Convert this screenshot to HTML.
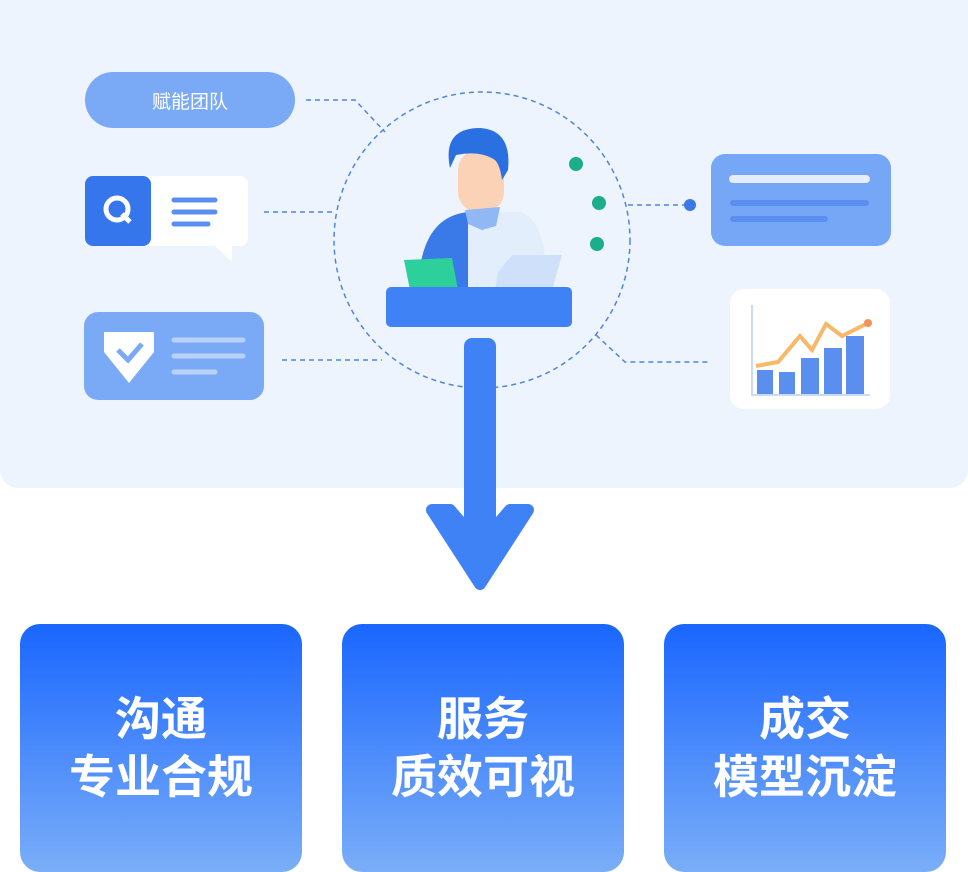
<!DOCTYPE html>
<html><head><meta charset="utf-8"><style>
body{margin:0;width:968px;height:872px;background:#fff;position:relative;overflow:hidden;font-family:"Liberation Sans","Noto Sans CJK SC",sans-serif}
.panel{position:absolute;left:0;top:0;width:968px;height:488px;background:#edf4fe;border-radius:0 0 18px 18px}
.box{position:absolute;top:624px;width:282px;height:248px;border-radius:20px;background:linear-gradient(#1a66ff,#7aaef8);color:#fff;font-size:46px;font-weight:bold;text-align:center;line-height:58px;box-sizing:border-box;padding-top:66px}
.abs{position:absolute}
</style></head><body>
<div class="panel"></div>
<svg class="abs" style="left:0;top:0" width="968" height="600">
<g fill="none" stroke="#4d86e0" stroke-width="1.5" stroke-dasharray="5,4">
<circle cx="482" cy="240" r="148"/>
<path d="M306 100 H355 L385 132"/>
<path d="M264 212 H334"/>
<path d="M282 360 H382"/>
<path d="M628 205 H688"/>
<path d="M596 335 L625 362 H708"/>
</g>
<circle cx="690" cy="205" r="6" fill="#3b77e8"/>
<circle cx="576" cy="164" r="7" fill="#1aae8c"/>
<circle cx="599" cy="203" r="7" fill="#1aae8c"/>
<circle cx="597" cy="244" r="7" fill="#1aae8c"/>
<path d="M418 290 Q420 215 470 212 L490 212 L490 290Z" fill="#3a7ae8"/>
<path d="M468 212 L520 212 Q548 220 546 290 L468 290Z" fill="#e3eefd"/>
<rect x="458" y="150" width="46" height="62" rx="20" fill="#fcd2b6"/>
<path d="M450 168 Q442 128 480 128 Q512 130 508 170 L502 180 Q500 165 495 160 Q480 150 456 155 Z" fill="#2a70e0"/>
<path d="M465 210 L500 207 L496 226 L482 230 L468 224Z" fill="#8fb8f5"/>
<path d="M404 260 L452 258 L458 290 L410 290Z" fill="#2dd09a"/>
<path d="M498 272 L512 255 L562 255 L552 290 L495 290Z" fill="#cfe0fb"/>
<rect x="386" y="287" width="186" height="40" rx="5" fill="#3f82f5"/>
<rect x="464" y="338" width="32" height="200" rx="8" fill="#3f82f5"/>
<path d="M432 510 L450 510 L480 545 L510 510 L528 510 L480 584Z" fill="#3f82f5" stroke="#3f82f5" stroke-width="12" stroke-linejoin="round"/>
<rect x="85" y="72" width="210" height="56" rx="28" fill="#7aaaf5"/>
<text x="190" y="108" font-size="19" fill="#fff" text-anchor="middle" font-family="Liberation Sans,Noto Sans CJK SC,sans-serif">赋能团队</text>
<rect x="85" y="176" width="163" height="70" rx="8" fill="#fff"/>
<path d="M215 246 L232 262 L232 246Z" fill="#fff"/>
<rect x="85" y="176" width="66" height="70" rx="8" fill="#3576ec"/>
<circle cx="117" cy="209" r="11" fill="none" stroke="#fff" stroke-width="5"/>
<path d="M122 214 L130 222" stroke="#fff" stroke-width="5"/>
<g stroke="#5a8ff0" stroke-width="5" stroke-linecap="round"><path d="M174 200H215M174 212H215M174 224H208"/></g>
<rect x="84" y="312" width="180" height="88" rx="14" fill="#7aaaf5"/>
<path d="M104 332 H154 V352 L129 383 L104 352Z" fill="#fff"/>
<path d="M118 350 L128 360 L142 344" stroke="#7aaaf5" stroke-width="5" fill="none"/>
<g stroke="#b9d2fa" stroke-width="5" stroke-linecap="round"><path d="M174 340H243M174 356H243M174 372H215"/></g>
<rect x="711" y="154" width="180" height="92" rx="14" fill="#76a6f6"/>
<g stroke-linecap="round"><path d="M733 179H866" stroke="#e4eefd" stroke-width="8"/><path d="M733 203H866" stroke="#5a8ff0" stroke-width="6"/><path d="M733 219H825" stroke="#5a8ff0" stroke-width="6"/></g>
<rect x="730" y="289" width="160" height="120" rx="14" fill="#fff"/>
<path d="M752 305V395H870" stroke="#c8dbfa" stroke-width="2" fill="none"/>
<g fill="#5a8ff0"><rect x="757" y="370" width="16" height="24"/><rect x="779" y="372" width="16" height="22"/><rect x="801" y="358" width="18" height="36"/><rect x="824" y="348" width="18" height="46"/><rect x="846" y="336" width="18" height="58"/></g>
<path d="M756 366 L778 362 L800 336 L812 350 L826 324 L842 336 L868 323" stroke="#f7b86a" stroke-width="4" fill="none"/>
<circle cx="868" cy="323" r="4" fill="#f7915a"/>
</svg>
<div class="box" style="left:20px">沟通<br>专业合规</div>
<div class="box" style="left:342px">服务<br>质效可视</div>
<div class="box" style="left:664px">成交<br>模型沉淀</div>
</body></html>
